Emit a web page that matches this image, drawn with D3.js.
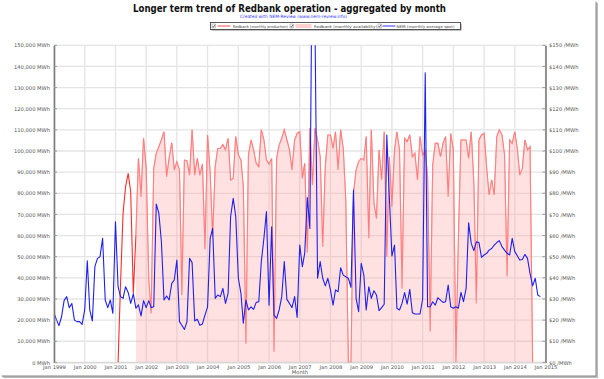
<!DOCTYPE html>
<html><head><meta charset="utf-8">
<script src="https://cdnjs.cloudflare.com/ajax/libs/d3/7.8.5/d3.min.js"></script>
<style>
html,body{margin:0;padding:0;background:#fff;}
svg{display:block;}
text{font-family:"DejaVu Sans",Verdana,sans-serif;}
</style></head>
<body>
<script>
// ---- data ----
const startMonth = "1999-01";
// NEM monthly average spot price ($/MWh), Jan 1999 .. Nov 2014
const spotPrice = [23.4,20,17.4,21.6,29.2,31.1,25.9,27.9,20,19.3,
19.3,18,24.8,48.1,24.8,19.6,45.3,49.2,50,58.7,
29.5,25.9,29.5,23.2,66.5,35.8,31.1,30.3,35.8,33.1,
27.9,32.4,25.6,27.2,22,29.2,25.9,29.2,25.9,26.3,
74.9,70.5,57.1,29.5,31.4,29.5,37.4,39,48.4,19.3,
17.6,15.6,19.3,49.2,47.2,19.6,20.4,17.6,18.2,22.4,
26.3,58.7,63.4,30.3,31.9,31.1,35,27.9,32.6,69,
77.6,69,39.8,32.6,18.5,29.5,24.8,26.3,25.1,28.4,
28.7,47.7,58.7,71.3,27.1,64.2,22.4,20.8,24.8,31.1,
47.7,29.8,27.9,25.9,31.1,21.3,55.5,45.3,51.6,78,
63.4,210,160,39.8,47.7,39.8,36.2,39.8,34.3,27.1,
34.3,33.4,44.8,41.3,40.5,39.8,35.5,81.5,30.3,24,
46.9,41.3,24.8,35.8,30.3,33.9,31.9,24.5,25.9,27.5,
107.6,78.4,50.3,55.5,25.6,24.8,27.9,33,27.6,34.6,
23.5,22.9,22.9,22.9,30,137,26.3,26.3,28.7,27.1,
30.6,29.5,28.4,28.7,36.6,26.3,25.6,26.3,25.6,33.1,
28.7,35,66,56.3,52.9,57,56.7,49.7,50.8,51.6,
53.1,53.9,55.5,56.7,57.6,54.8,53.1,51.6,50.8,58.7,
52.4,50.3,48.4,48.7,51.1,49.2,42.1,36.2,39.8,31.9,
31.1];
// Redbank monthly production (thousand MWh), starting Feb 2001 (month index 25)
const productionStart = 25;
const production = [0,35.8,70.5,83.1,89.4,80.7,32.6,60,96.5,78.4,
106,91.8,39,23.2,91.8,98.9,102,105.2,109.1,87.8,
96.5,103.9,91,94.9,91,31.9,95.7,95.4,88.6,110,
88.6,96.5,88.6,93.8,53.5,107.6,89.4,59.5,92.6,101.2,
101.2,103,100.5,106,86.3,87,106.8,98.1,95.7,83.1,
9,98.1,105.2,100.5,94.2,92.6,110,105.2,95.7,93.8,
96.5,5.1,96.5,102.8,106,110,105.2,100.5,91,105.2,
108.3,109.1,87,94.2,52,110.7,83.9,110.7,105.2,97.3,
54.7,92.6,107.6,107.6,101.2,109.1,91,110,101.2,76.8,
0,0,80,91,94.9,96.5,95.7,106.8,58.7,110,
75.2,68.1,100.5,86.3,109.1,50,97.3,73.7,100.5,109.1,
100.5,35,106,104.4,107.6,97.3,98.9,86.3,106.8,98,
100,88,14.6,93.4,103.6,103.6,97.3,103.6,106.8,78.4,
108.3,100.5,0,57.9,105.2,105.2,105.2,96.5,109.1,85,
28,105.2,107.6,108.3,91.8,79.2,86.3,79.2,106.8,110,
107.6,98.1,40.6,105.2,103.6,109.1,100.5,88.6,91.8,105.2,
100.5,102,0];
// Redbank monthly availability (thousand MWh), starting Sep 2001 (month index 32)
const availabilityStart = 32;
const availability = [60,96.5,78.4,
106,91.8,39,23.2,91.8,98.9,102,105.2,109.1,87.8,
96.5,103.9,91,94.9,91,31.9,95.7,95.4,88.6,110,
88.6,96.5,88.6,93.8,53.5,107.6,89.4,59.5,92.6,101.2,
101.2,103,100.5,106,86.3,87,106.8,98.1,95.7,83.1,
9,98.1,105.2,100.5,94.2,92.6,110,105.2,95.7,93.8,
96.5,5.1,96.5,102.8,106,110,105.2,100.5,91,105.2,
108.3,109.1,87,94.2,52,110.7,83.9,110.7,105.2,97.3,
54.7,92.6,107.6,107.6,101.2,109.1,91,110,101.2,76.8,
0,0,80,91,94.9,96.5,95.7,106.8,58.7,110,
75.2,68.1,100.5,86.3,109.1,50,97.3,73.7,100.5,109.1,
100.5,35,106,104.4,107.6,97.3,98.9,86.3,106.8,98,
100,88,14.6,93.4,103.6,103.6,97.3,103.6,106.8,78.4,
108.3,100.5,0,57.9,105.2,105.2,105.2,96.5,109.1,85,
28,105.2,107.6,108.3,91.8,79.2,86.3,79.2,106.8,110,
107.6,98.1,40.6,105.2,103.6,109.1,100.5,88.6,91.8,105.2,
100.5,102,0];
const leftTicks = [0,10000,20000,30000,40000,50000,60000,70000,80000,90000,100000,110000,120000,130000,140000,150000];
const rightTicks = [0,10,20,30,40,50,60,70,80,90,100,110,120,130,140,150];
const yearTicks = [1999,2000,2001,2002,2003,2004,2005,2006,2007,2008,2009,2010,2011,2012,2013,2014,2015];
const titleText = "Longer term trend of Redbank operation - aggregated by month";
const subtitleText = "Created with NEM-Review (www.nem-review.info)";
const legendLabels = ["Redbank (monthly production)","Redbank (monthly availability)","NEM (monthly average spot)"];

// ---- drawing ----
const W = 604, H = 379;
const svg = d3.select("body").append("svg").attr("width", W).attr("height", H);
const start = d3.timeParse("%Y-%m")(startMonth);
const monthDate = i => d3.timeMonth.offset(start, i);

const x = d3.scaleTime().domain([new Date(1999,0,1), new Date(2015,0,1)]).range([54, 545.5]);
const yL = d3.scaleLinear().domain([0,150000]).range([362.4, 45.3]);
const yR = d3.scaleLinear().domain([0,150]).range([362.4, 45.3]);

// frame with shadow
svg.append("rect").attr("x",3).attr("y",3).attr("width",595).attr("height",375).attr("fill","#bbb");
svg.append("rect").attr("x",1.5).attr("y",1.5).attr("width",595).attr("height",375).attr("fill","#888");
svg.append("rect").attr("x",0).attr("y",0).attr("width",595.5).attr("height",375.5).attr("fill","#fff");

// gridlines
const grid = svg.append("g");
grid.selectAll("line.h").data(leftTicks).join("line")
  .attr("x1",54).attr("x2",545.5).attr("y1",d=>yL(d)).attr("y2",d=>yL(d))
  .attr("stroke","#e4e4e4").attr("stroke-width",1.3);
grid.selectAll("line.v").data(yearTicks).join("line")
  .attr("x1",d=>x(new Date(d,0,1))).attr("x2",d=>x(new Date(d,0,1)))
  .attr("y1",45.3).attr("y2",362.4).attr("stroke","#e4e4e4").attr("stroke-width",1.3);

svg.append("clipPath").attr("id","plotclip").append("rect")
  .attr("x",54).attr("y",45.3).attr("width",491.5).attr("height",317.1);
const plot = svg.append("g").attr("clip-path","url(#plotclip)");

// production line
const prodData = production.map((v,i)=>({d:monthDate(productionStart+i), v:v*1000}));
const availData = availability.map((v,i)=>({d:monthDate(availabilityStart+i), v:v*1000}));
plot.append("path").datum(prodData)
  .attr("fill","none").attr("stroke","#ff2a2a").attr("stroke-width",1.1)
  .attr("d", d3.line().x(d=>x(d.d)).y(d=>yL(d.v)));
// availability area on top (semi transparent)
plot.append("path").datum(availData)
  .attr("fill","#ff9c9c").attr("fill-opacity",0.3)
  .attr("d", d3.area().x(d=>x(d.d)).y0(yL(0)).y1(d=>yL(d.v)));
plot.append("path").datum(availData)
  .attr("fill","none").attr("stroke","#ffffff").attr("stroke-opacity",0.35).attr("stroke-width",1.2)
  .attr("d", d3.line().x(d=>x(d.d)).y(d=>yL(d.v)));
// spot price line
const spotData = spotPrice.map((v,i)=>({d:monthDate(i), v}));
plot.append("path").datum(spotData)
  .attr("fill","none").attr("stroke","#1f1fee").attr("stroke-width",1.1).attr("stroke-linejoin","round")
  .attr("d", d3.line().x(d=>x(d.d)).y(d=>yR(d.v)));

// axes
const fmt = d3.format(",");
const axL = svg.append("g").attr("transform","translate(54,0)")
  .call(d3.axisLeft(yL).tickValues(leftTicks).tickSize(0).tickPadding(4).tickFormat(d=>fmt(d)+" MWh"));
const axR = svg.append("g").attr("transform","translate(545.5,0)")
  .call(d3.axisRight(yR).tickValues(rightTicks).tickSize(0).tickPadding(3.5).tickFormat(d=>"$"+d+" /MWh"));
const axB = svg.append("g").attr("transform","translate(0,362.4)")
  .call(d3.axisBottom(x).tickValues(yearTicks.map(y=>new Date(y,0,1))).tickSize(0).tickPadding(3.4).tickFormat(d3.timeFormat("%b %Y")));
[axL,axR,axB].forEach(a=>{
  a.selectAll("text").attr("font-size",5.2).attr("fill","#555").attr("font-family","DejaVu Sans, sans-serif");
});
axL.select(".domain").attr("stroke","#7a7a7a").attr("stroke-width",1.6);
axR.select(".domain").attr("stroke","#7a7a7a").attr("stroke-width",1.6);
axB.select(".domain").attr("stroke","#cfcfcf").attr("stroke-width",1);
// small inner tick marks on y axes
svg.append("g").selectAll("line").data(leftTicks).join("line")
  .attr("x1",54).attr("x2",57).attr("y1",d=>yL(d)).attr("y2",d=>yL(d)).attr("stroke","#999").attr("stroke-width",1);
svg.append("g").selectAll("line").data(rightTicks).join("line")
  .attr("x1",542.5).attr("x2",545.5).attr("y1",d=>yR(d)).attr("y2",d=>yR(d)).attr("stroke","#999").attr("stroke-width",1);

svg.append("text").attr("x",300).attr("y",374.3).attr("text-anchor","middle")
  .attr("font-size",5.2).attr("fill","#555").text("Month");

// title
svg.append("text").attr("x",133).attr("y",11.5)
  .attr("font-size",9.6).attr("font-weight","bold").attr("fill","#111")
  .attr("textLength",313).attr("lengthAdjust","spacingAndGlyphs")
  .attr("font-family","DejaVu Sans, Verdana, sans-serif").text(titleText);
svg.append("text").attr("x",240).attr("y",17.6)
  .attr("font-size",4.4).attr("fill","#3a3aff")
  .attr("textLength",107).attr("lengthAdjust","spacingAndGlyphs").text(subtitleText);

// legend
const lg = svg.append("g");
lg.append("rect").attr("x",211.5).attr("y",23.5).attr("width",250).attr("height",7).attr("fill","#888");
lg.append("rect").attr("x",210.5).attr("y",22.5).attr("width",250).attr("height",7).attr("fill","#fff").attr("stroke","#333").attr("stroke-width",0.8);
const items = [
  {cb:212, sx:217.5, type:"line", color:"#ff4d4d", tx:233, tw:55},
  {cb:290, sx:295.5, type:"rect", color:"#ffd0d0", tx:314, tw:63},
  {cb:378, sx:382.5, type:"line", color:"#3838ff", tx:396.5, tw:58}
];
items.forEach((it,i)=>{
  lg.append("rect").attr("x",it.cb).attr("y",24).attr("width",3.6).attr("height",4).attr("fill","#fff").attr("stroke","#777").attr("stroke-width",0.4);
  lg.append("path").attr("d",`M${it.cb+0.7},${26.1} L${it.cb+1.5},${27.3} L${it.cb+3},${24.6}`).attr("fill","none").attr("stroke","#222").attr("stroke-width",0.6);
  if(it.type==="line"){
    lg.append("line").attr("x1",it.sx).attr("x2",it.sx+13).attr("y1",26).attr("y2",26).attr("stroke",it.color).attr("stroke-width",1);
  } else {
    lg.append("rect").attr("x",it.sx).attr("y",24).attr("width",16).attr("height",4).attr("fill",it.color);
  }
  lg.append("text").attr("x",it.tx).attr("y",27.7).attr("font-size",3.8).attr("fill","#444")
    .attr("textLength",it.tw).attr("lengthAdjust","spacingAndGlyphs").text(legendLabels[i]);
});
</script>
</body></html>
